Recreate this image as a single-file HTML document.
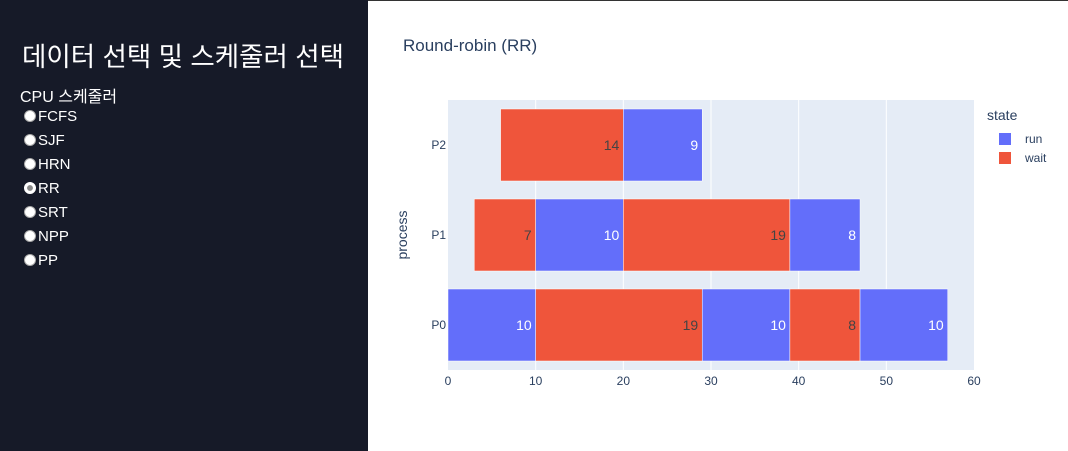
<!DOCTYPE html>
<html><head><meta charset="utf-8"><style>
body{margin:0;width:1068px;height:451px;overflow:hidden;font-family:"Liberation Sans","Noto Sans CJK KR",sans-serif;background:#fff;position:relative}
#side{position:absolute;left:0;top:0;width:368px;height:451px;background:#161a28;color:#fff}
#side h1{position:absolute;left:22px;top:35px;margin:0;font-weight:normal;font-size:26.5px;white-space:nowrap}
#lbl{position:absolute;left:20px;top:83px;font-size:16px}
.opt{position:absolute;left:24px;font-size:15px;display:flex;align-items:center;height:18px}
.opt span.r{width:12px;height:12px;border-radius:50%;background:#fff;border:1px solid #aaa;box-sizing:border-box;margin-right:2px}
.opt span.r.on{background:#fff;border:3px solid #fff;box-shadow:inset 0 0 0 4px #888}
#topline{position:absolute;left:368px;top:0;width:700px;height:1px;background:#333}
svg{position:absolute;left:0;top:0}
</style></head><body>
<div id="side">
<h1>데이터 선택 및 스케줄러 선택</h1>
<div id="lbl">CPU 스케줄러</div>
<div class="opt" style="top:107px"><span class="r"></span>FCFS</div>
<div class="opt" style="top:131px"><span class="r"></span>SJF</div>
<div class="opt" style="top:155px"><span class="r"></span>HRN</div>
<div class="opt" style="top:179px"><span class="r on"></span>RR</div>
<div class="opt" style="top:203px"><span class="r"></span>SRT</div>
<div class="opt" style="top:227px"><span class="r"></span>NPP</div>
<div class="opt" style="top:251px"><span class="r"></span>PP</div>
</div>
<div id="topline"></div>
<svg id="chart" width="1068" height="451"></svg>
<script>
const categories=["P0","P1","P2"];
const segProc=["P2","P2","P1","P1","P1","P1","P0","P0","P0","P0","P0"];
const segStart=[6,20,3,10,20,39,0,10,29,39,47];
const segDur=[14,9,7,10,19,8,10,19,10,8,10];
const segState=["wait","run","wait","run","wait","run","run","wait","run","wait","run"];
const xTicks=[0,10,20,30,40,50,60];
const NS="http://www.w3.org/2000/svg";
const svg=document.getElementById('chart');
const L=448,R=974,T=100,B=370;
const x=v=>L+(v-0)/60*(R-L);
const band=(B-T)/3;
const yc=c=>B-(categories.indexOf(c)+0.5)*band;
const col={run:"#636efa",wait:"#ef553b"};
function mk(t,a){const e=document.createElementNS(NS,t);for(const k in a)e.setAttribute(k,a[k]);svg.appendChild(e);return e;}
let e=mk('rect',{x:L,y:T,width:R-L,height:B-T,fill:'#e5ecf6'});

xTicks.forEach(t=>{
 if(t>0&&t<60){let g=mk('line',{x1:x(t),x2:x(t),y1:T,y2:B,stroke:'#fff','stroke-width':1});
 }
 let tx=mk('text',{x:x(t),y:B+15,'text-anchor':'middle','font-size':12,fill:'#2a3f5f'});tx.textContent=t;
 
});
categories.forEach(c=>{
 let tx=mk('text',{x:L-2,y:yc(c)+4,'text-anchor':'end','font-size':12,fill:'#2a3f5f'});tx.textContent=c;
 
});
const bh=band*0.8;
segStart.forEach((s,i)=>{
 const x0=x(s),x1=x(s+segDur[i]),y0=yc(segProc[i])-bh/2;
 let r=mk('rect',{x:x0,y:y0,width:x1-x0,height:bh,fill:col[segState[i]],stroke:'#fff','stroke-width':0.5});
 
 let tx=mk('text',{x:x1-4,y:yc(segProc[i])+5,'text-anchor':'end','font-size':14,fill:segState[i]=='run'?'#fff':'#444'});
 tx.textContent=segDur[i];
 
});
let t=mk('text',{x:403,y:51,'font-size':17,fill:'#2a3f5f'});t.textContent="Round-robin (RR)";

t=mk('text',{x:407,y:(T+B)/2,'font-size':14,fill:'#2a3f5f','text-anchor':'middle',transform:`rotate(-90 407 ${(T+B)/2})`});t.textContent="process";

t=mk('text',{x:987,y:120,'font-size':14,fill:'#2a3f5f'});t.textContent="state";

[["run",139],["wait",158]].forEach(([s,yy])=>{
 let r=mk('rect',{x:999,y:yy-6,width:12,height:12,fill:col[s]});
 
 let tx=mk('text',{x:1025,y:yy+4,'font-size':12,fill:'#2a3f5f'});tx.textContent=s;
 
});
</script>
</body></html>
